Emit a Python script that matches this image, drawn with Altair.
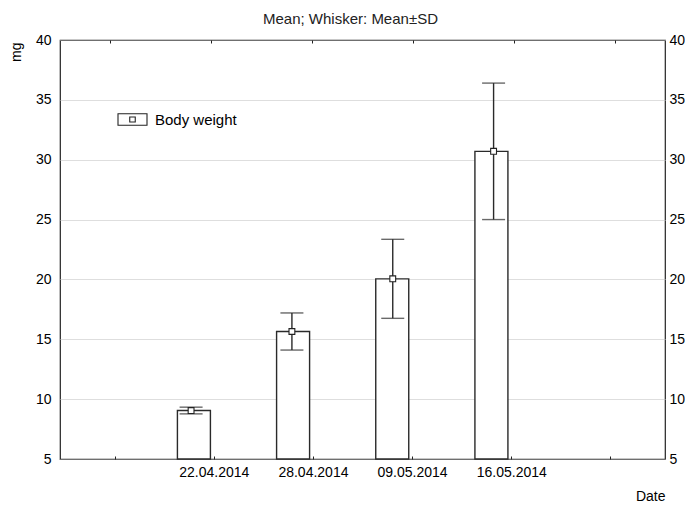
import altair as alt
import pandas as pd

dates = ["22.04.2014", "28.04.2014", "09.05.2014", "16.05.2014"]
means = [9.05, 15.65, 20.05, 30.7]
sds = [0.28, 1.55, 3.3, 5.7]
series_name = "Body weight"

slot_shift = -0.2  # bars sit a little left of their category tick
df = pd.DataFrame({
    "date": dates,
    "slot": [i + 1 for i in range(len(dates))],
    "mean": means,
    "sd": sds,
})
df["pos"] = df["slot"] + slot_shift
df["lo"] = df["mean"] - df["sd"]
df["hi"] = df["mean"] + df["sd"]
df["series"] = series_name

tick_labels = [""] + dates + [""]
label_expr = "[" + ",".join("'" + t + "'" for t in tick_labels) + "][datum.value]"

FONT = "Liberation Sans"
INK = "#222222"
W, H = 605, 419
xs = alt.Scale(domain=[-0.5, 5.5], nice=False, zero=False)
ys = alt.Scale(domain=[5, 40], nice=False, zero=False)

bottom_axis = alt.Axis(
    orient="bottom", values=list(range(6)), labelExpr=label_expr,
    domain=False, grid=False, tickSize=3, offset=-3, tickColor=INK,
    labelPadding=6, labelFontSize=14, labelColor="black", labelFlush=False,
    title="Date", titleAnchor="end", titleFontSize=14, titleFontWeight="normal",
    titlePadding=10, titleColor="black",
)
left_axis = alt.Axis(
    orient="left", values=list(range(5, 41, 5)), domain=False, ticks=False,
    tickSize=0, labelPadding=9, labelFontSize=14, labelColor="black",
    grid=True, gridDash=[1, 1], gridColor="#bdbdbd", gridWidth=1,
    title="mg", titleFontSize=14, titleFontWeight="normal", titleColor="black",
    titleAngle=-90, titleAlign="right", titleBaseline="alphabetic",
    titleX=-40, titleY=2,
)
top_axis = alt.Axis(
    orient="top", values=list(range(6)), labels=False, domain=False,
    grid=False, tickSize=3, offset=-3, tickColor=INK, title=None,
)
right_axis = alt.Axis(
    orient="right", values=list(range(5, 41, 5)), domain=False, ticks=False,
    tickSize=0, labelPadding=4, labelFontSize=14, labelColor="black",
    grid=False, title=None,
)

base = alt.Chart(df)

bars = base.mark_bar(size=33, fill="white", stroke="#2a2a2a", strokeWidth=1.4).encode(
    x=alt.X("pos:Q", scale=xs, axis=bottom_axis),
    y=alt.Y("mean:Q", scale=ys, axis=left_axis),
    y2=alt.datum(5),
)

whisker = base.mark_rule(color="#2a2a2a", strokeWidth=1.4).encode(
    x=alt.X("pos:Q", scale=xs, axis=top_axis),
    y=alt.Y("lo:Q", scale=ys, axis=right_axis),
    y2="hi:Q",
)

cap_hi = base.mark_tick(orient="horizontal", size=23, thickness=1.4, color="#2a2a2a").encode(
    x=alt.X("pos:Q", scale=xs, axis=None),
    y=alt.Y("hi:Q", scale=ys, axis=None),
)
cap_lo = base.mark_tick(orient="horizontal", size=23, thickness=1.4, color="#2a2a2a").encode(
    x=alt.X("pos:Q", scale=xs, axis=None),
    y=alt.Y("lo:Q", scale=ys, axis=None),
)

legend_path = "M-1,-0.4H1V0.4H-1Z M-0.19,-0.17H0.19V0.17H-0.19Z"
points = base.mark_point(shape="square", size=34, filled=True, fill="white",
                         strokeWidth=1.1, opacity=1).encode(
    x=alt.X("pos:Q", scale=xs, axis=None),
    y=alt.Y("mean:Q", scale=ys, axis=None),
    stroke=alt.Stroke("series:N", scale=alt.Scale(range=["#222222"]),
                      legend=alt.Legend(
                          title=None, orient="none", legendX=57, legendY=64,
                          symbolType=legend_path, symbolSize=841,
                          symbolFillColor="white", symbolStrokeWidth=1.1,
                          symbolOpacity=1, labelFontSize=15, labelColor="black",
                          labelOffset=7, padding=0)),
)

chart = alt.layer(bars, whisker, cap_hi, cap_lo, points).resolve_scale(
    x="independent", y="independent"
).properties(
    width=W, height=H,
    title=alt.TitleParams("Mean; Whisker: Mean±SD", fontSize=15, fontWeight="normal",
                          color=INK, anchor="middle", dx=-12, offset=6),
    autosize=alt.AutoSizeParams(type="none"),
    padding={"left": 52, "top": 32, "right": 677 - 52 - W, "bottom": 44},
).configure(
    font=FONT,
).configure_view(
    stroke=INK, strokeWidth=1.2,
)

chart.save("out.html", embed_options={"renderer": "svg", "actions": False})
